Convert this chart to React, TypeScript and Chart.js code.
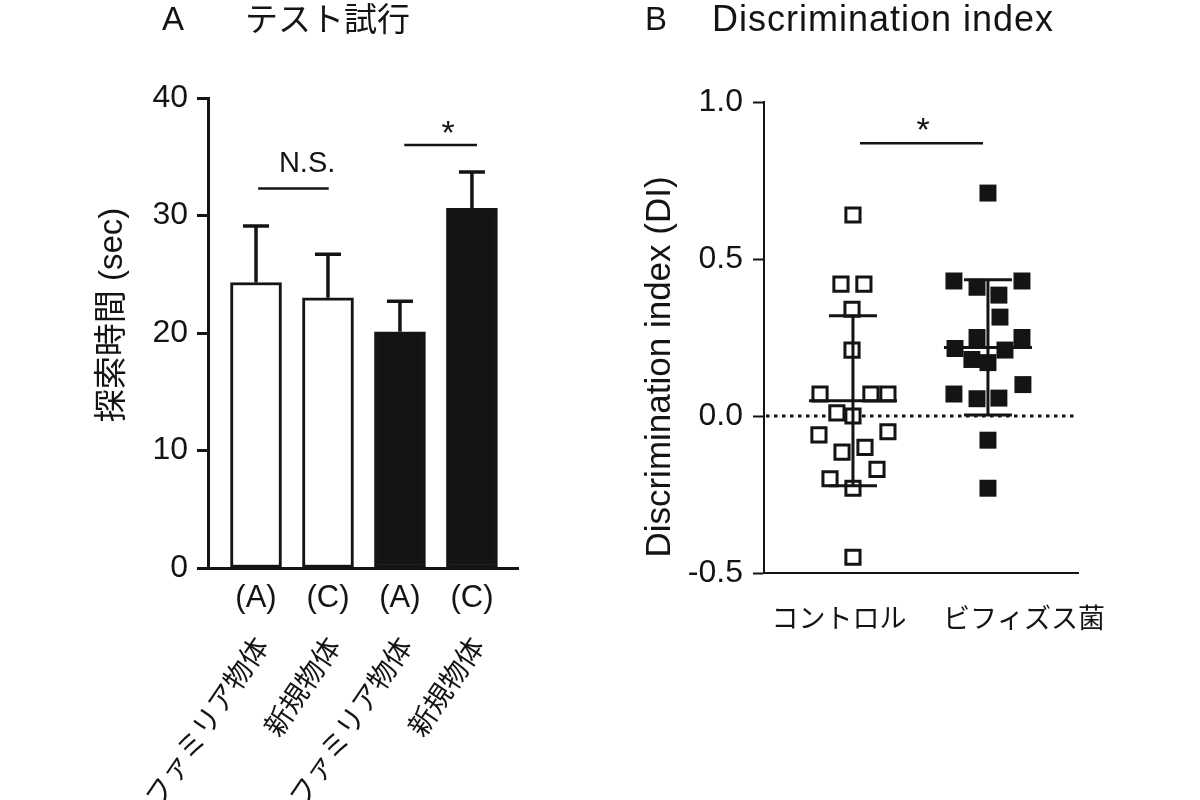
import React, { useEffect, useRef } from 'react';
import { Chart, registerables } from 'chart.js';

Chart.register(...registerables);

const LATIN = '"Liberation Sans", "Noto Sans CJK JP", Arial, sans-serif';
const JP = '"Noto Sans CJK JP", "Liberation Sans", sans-serif';
const INK = '#141414';

// ---------- Panel A: テスト試行 ----------
const A_TITLE_LETTER = 'A';
const A_TITLE = 'テスト試行';
const A_Y_TITLE = '探索時間 (sec)';
const A_POS = [1, 2, 3, 4];
const A_TICK_LABELS = ['(A)', '(C)', '(A)', '(C)'];
const A_OBJ_LABELS = ['ファミリア物体', '新規物体', 'ファミリア物体', '新規物体'];
const A_MEANS = [24.3, 23.0, 20.1, 30.6];
const A_SEM = [4.8, 3.7, 2.6, 3.1];
const A_FILL = ['#ffffff', '#ffffff', INK, INK];
const A_Y_TICKS = [0, 10, 20, 30, 40];
// significance annotations (data units)
const A_SIG_NS = { x1: 1.03, x2: 2.01, y: 32.3, label: 'N.S.', lx: 1.71, ly: 33.7 };
const A_SIG_STAR = { x1: 3.06, x2: 4.07, y: 36.0, label: '*', lx: 3.67, ly: 36.1 };

// ---------- Panel B: Discrimination index ----------
const B_TITLE_LETTER = 'B';
const B_TITLE = 'Discrimination index';
const B_Y_TITLE = 'Discrimination index (DI)';
const B_GROUPS = ['コントロル', 'ビフィズス菌'];
const B_GROUP_POS = [1, 2];
const B_LABEL_POS = [0.896, 2.267];
const B_Y_TICKS = [-0.5, 0, 0.5, 1.0];
const CTRL_DI = [0.64, 0.42, 0.42, 0.34, 0.21, 0.07, 0.07, 0.07, 0.01, 0.0, -0.06, -0.05, -0.10, -0.115, -0.17, -0.20, -0.23, -0.45];
const CTRL_JITTER = [0, -0.089, 0.081, -0.007, -0.007, -0.244, 0.133, 0.259, -0.119, 0, -0.252, 0.259, 0.089, -0.081, 0.178, -0.170, 0, 0];
const BIFI_DI = [0.71, 0.43, 0.41, 0.43, 0.385, 0.315, 0.25, 0.25, 0.215, 0.21, 0.18, 0.17, 0.10, 0.07, 0.055, 0.057, -0.077, -0.23];
const BIFI_JITTER = [0, -0.252, -0.081, 0.252, 0.081, 0.089, -0.081, 0.252, -0.244, 0.126, -0.119, 0, 0.259, -0.252, -0.081, 0.081, 0, 0];
const B_SIG = { x1: 1.052, x2: 1.963, y: 0.869, label: '*', lx: 1.519, ly: 0.876 };

function meanSd(arr: number[]) {
  const m = arr.reduce((a, b) => a + b, 0) / arr.length;
  const v = arr.reduce((a, b) => a + (b - m) * (b - m), 0) / (arr.length - 1);
  return { m, sd: Math.sqrt(v) };
}

function drawSig(ctx: CanvasRenderingContext2D, xs: any, ys: any, s: any, fontSize: number) {
  ctx.save();
  ctx.strokeStyle = INK;
  ctx.lineWidth = 2.5;
  ctx.beginPath();
  ctx.moveTo(xs.getPixelForValue(s.x1), ys.getPixelForValue(s.y));
  ctx.lineTo(xs.getPixelForValue(s.x2), ys.getPixelForValue(s.y));
  ctx.stroke();
  ctx.fillStyle = INK;
  ctx.font = `${fontSize}px ${LATIN}`;
  ctx.textAlign = 'center';
  ctx.textBaseline = 'alphabetic';
  ctx.fillText(s.label, xs.getPixelForValue(s.lx), ys.getPixelForValue(s.ly));
  ctx.restore();
}

function drawYTitle(ctx: CanvasRenderingContext2D, text: string, x: number, y: number, size: number) {
  ctx.save();
  ctx.translate(x, y);
  ctx.rotate(-Math.PI / 2);
  ctx.fillStyle = INK;
  ctx.font = `${size}px ${LATIN}`;
  ctx.textAlign = 'center';
  ctx.textBaseline = 'middle';
  ctx.fillText(text, 0, 0);
  ctx.restore();
}

export default function App() {
  const refA = useRef<HTMLCanvasElement>(null);
  const refB = useRef<HTMLCanvasElement>(null);

  useEffect(() => {
    const pluginA = {
      id: 'panelA',
      afterDatasetsDraw(chart: any) {
        const { ctx } = chart;
        const xs = chart.scales.x;
        const ys = chart.scales.y;
        ctx.save();
        ctx.strokeStyle = INK;
        ctx.lineWidth = 3.5;
        A_POS.forEach((p, i) => {
          const x = xs.getPixelForValue(p);
          const y0 = ys.getPixelForValue(A_MEANS[i]);
          const y1 = ys.getPixelForValue(A_MEANS[i] + A_SEM[i]);
          ctx.beginPath();
          ctx.moveTo(x, y0);
          ctx.lineTo(x, y1);
          ctx.moveTo(x - 13, y1);
          ctx.lineTo(x + 13, y1);
          ctx.stroke();
        });
        ctx.restore();
        drawSig(ctx, xs, ys, A_SIG_NS, 29);
        drawSig(ctx, xs, ys, A_SIG_STAR, 34);
      },
      afterDraw(chart: any) {
        const { ctx } = chart;
        const xs = chart.scales.x;
        ctx.save();
        ctx.fillStyle = INK;
        ctx.textBaseline = 'alphabetic';
        ctx.font = `33px ${LATIN}`;
        ctx.fillText(A_TITLE_LETTER, 162, 30);
        ctx.font = `33px ${JP}`;
        ctx.fillText(A_TITLE, 245, 31);
        // rotated object labels
        ctx.font = `28px ${JP}`;
        ctx.textAlign = 'right';
        ctx.textBaseline = 'middle';
        A_POS.forEach((p, i) => {
          const x = xs.getPixelForValue(p) + 5;
          ctx.save();
          ctx.translate(x, 640);
          ctx.rotate((-56 * Math.PI) / 180);
          ctx.fillText(A_OBJ_LABELS[i], 0, 0);
          ctx.restore();
        });
        ctx.restore();
        drawYTitle(ctx, A_Y_TITLE, 113, 315, 33);
      },
    };

    const chartA = new Chart(refA.current as HTMLCanvasElement, {
      type: 'bar',
      data: {
        datasets: [
          {
            data: A_POS.map((x, i) => ({ x, y: A_MEANS[i] })),
            backgroundColor: A_FILL,
            borderColor: INK,
            borderWidth: 3,
            borderSkipped: false,
            barThickness: 51,
          } as any,
        ],
      },
      options: {
        animation: false,
        responsive: false,
        devicePixelRatio: 1,
        layout: { padding: { left: 0, top: 98, right: 82, bottom: 0 } },
        plugins: { legend: { display: false }, tooltip: { enabled: false }, title: { display: false } },
        scales: {
          x: {
            type: 'linear',
            offset: false,
            min: 0.333,
            max: 4.64,
            afterBuildTicks: (s: any) => {
              s.ticks = A_POS.map((v) => ({ value: v }));
            },
            ticks: {
              callback: (_v: any, i: number) => A_TICK_LABELS[i],
              font: { size: 31, family: LATIN },
              color: INK,
              padding: 12,
              maxRotation: 0,
              minRotation: 0,
              autoSkip: false,
            },
            grid: { display: false, drawTicks: false },
            border: { display: true, color: INK, width: 3 },
            afterFit: (s: any) => {
              s.height = 232;
            },
          },
          y: {
            min: 0,
            max: 40,
            afterBuildTicks: (s: any) => {
              s.ticks = A_Y_TICKS.map((v) => ({ value: v }));
            },
            ticks: { font: { size: 32, family: LATIN }, color: INK, padding: 9 },
            grid: { drawOnChartArea: false, drawTicks: true, tickLength: 11, tickWidth: 3, color: INK },
            border: { display: true, color: INK, width: 3 },
            afterFit: (s: any) => {
              s.width = 208;
            },
          },
        },
      } as any,
      plugins: [pluginA],
    });

    const pluginB = {
      id: 'panelB',
      beforeDatasetsDraw(chart: any) {
        const { ctx, chartArea } = chart;
        const ys = chart.scales.y;
        const y = ys.getPixelForValue(0);
        ctx.save();
        ctx.strokeStyle = INK;
        ctx.lineWidth = 3;
        ctx.setLineDash([3.5, 4.5]);
        ctx.beginPath();
        ctx.moveTo(chartArea.left + 2, y);
        ctx.lineTo(chartArea.right, y);
        ctx.stroke();
        ctx.restore();
      },
      afterDatasetsDraw(chart: any) {
        const { ctx } = chart;
        const xs = chart.scales.x;
        const ys = chart.scales.y;
        ctx.save();
        ctx.strokeStyle = INK;
        ctx.lineWidth = 3;
        [CTRL_DI, BIFI_DI].forEach((arr, g) => {
          const { m, sd } = meanSd(arr);
          const x = xs.getPixelForValue(B_GROUP_POS[g]);
          const ym = ys.getPixelForValue(m);
          const yt = ys.getPixelForValue(m + sd);
          const yb = ys.getPixelForValue(m - sd);
          ctx.beginPath();
          ctx.moveTo(x - 44, ym);
          ctx.lineTo(x + 44, ym);
          ctx.moveTo(x, yt);
          ctx.lineTo(x, yb);
          ctx.moveTo(x - 24, yt);
          ctx.lineTo(x + 24, yt);
          ctx.moveTo(x - 24, yb);
          ctx.lineTo(x + 24, yb);
          ctx.stroke();
        });
        ctx.restore();
        drawSig(ctx, xs, ys, B_SIG, 34);
      },
      afterDraw(chart: any) {
        const { ctx } = chart;
        ctx.save();
        ctx.fillStyle = INK;
        ctx.textBaseline = 'alphabetic';
        ctx.font = `33px ${LATIN}`;
        ctx.fillText(B_TITLE_LETTER, 45, 30);
        ctx.font = `36px ${LATIN}`;
        (ctx as any).letterSpacing = '1px';
        ctx.fillText(B_TITLE, 112, 31);
        (ctx as any).letterSpacing = '0px';
        ctx.restore();
        drawYTitle(ctx, B_Y_TITLE, 60, 367, 35);
      },
    };

    const chartB = new Chart(refB.current as HTMLCanvasElement, {
      type: 'scatter',
      data: {
        datasets: [
          {
            data: CTRL_DI.map((y, i) => ({ x: B_GROUP_POS[0] + CTRL_JITTER[i], y })),
            pointStyle: 'rect',
            radius: 10,
            hoverRadius: 10,
            borderWidth: 3,
            borderColor: INK,
            backgroundColor: '#ffffff',
          },
          {
            data: BIFI_DI.map((y, i) => ({ x: B_GROUP_POS[1] + BIFI_JITTER[i], y })),
            pointStyle: 'rect',
            radius: 12,
            hoverRadius: 12,
            borderWidth: 0,
            borderColor: INK,
            backgroundColor: INK,
          },
        ] as any,
      },
      options: {
        animation: false,
        responsive: false,
        devicePixelRatio: 1,
        clip: false,
        layout: { padding: { left: 0, top: 102, right: 122, bottom: 0 } },
        plugins: { legend: { display: false }, tooltip: { enabled: false }, title: { display: false } },
        scales: {
          x: {
            type: 'linear',
            min: 0.341,
            max: 2.667,
            afterBuildTicks: (s: any) => {
              s.ticks = B_LABEL_POS.map((v) => ({ value: v }));
            },
            ticks: {
              callback: (_v: any, i: number) => B_GROUPS[i],
              font: { size: 27, family: JP },
              color: INK,
              padding: 29,
              maxRotation: 0,
              minRotation: 0,
              autoSkip: false,
            },
            grid: { display: false, drawTicks: false },
            border: { display: true, color: INK, width: 2 },
            afterFit: (s: any) => {
              s.height = 227;
            },
          },
          y: {
            min: -0.5,
            max: 1.0,
            afterBuildTicks: (s: any) => {
              s.ticks = B_Y_TICKS.map((v) => ({ value: v }));
            },
            ticks: {
              callback: (v: any) => Number(v).toFixed(1),
              font: { size: 32, family: LATIN },
              color: INK,
              padding: 10,
            },
            grid: { drawOnChartArea: false, drawTicks: true, tickLength: 11, tickWidth: 2, color: INK },
            border: { display: true, color: INK, width: 2 },
            afterFit: (s: any) => {
              s.width = 164;
            },
          },
        },
      } as any,
      plugins: [pluginB],
    });

    return () => {
      chartA.destroy();
      chartB.destroy();
    };
  }, []);

  return (
    <div style={{ position: 'absolute', left: 0, top: 0, width: 1200, height: 800, background: '#ffffff' }}>
      <canvas ref={refA} width={600} height={800} style={{ position: 'absolute', left: 0, top: 0, width: 600, height: 800 }} />
      <canvas ref={refB} width={600} height={800} style={{ position: 'absolute', left: 600, top: 0, width: 600, height: 800 }} />
    </div>
  );
}
